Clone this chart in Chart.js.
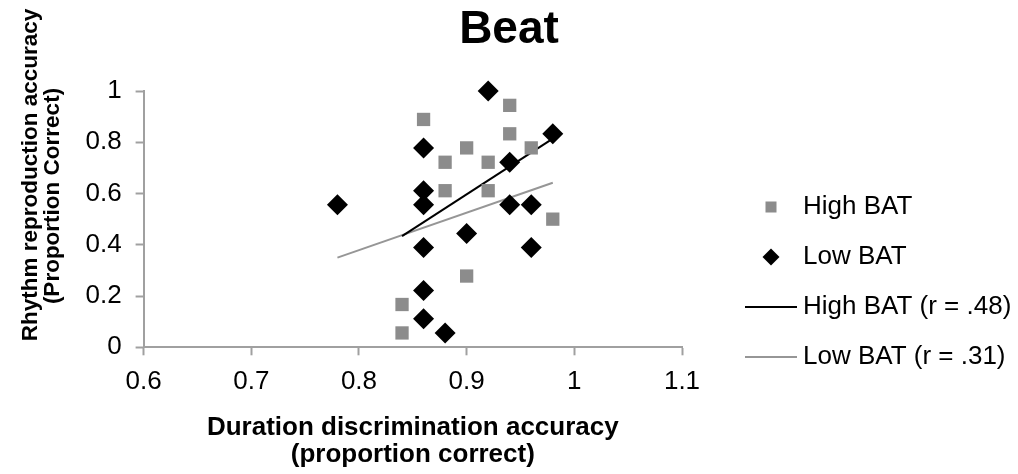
<!DOCTYPE html>
<html><head><meta charset="utf-8">
<script src="https://cdn.jsdelivr.net/npm/chart.js@4"></script>
<style>html,body{margin:0;padding:0;background:#fff;} canvas{display:block;}</style>
</head><body>
<canvas id="c" width="1018" height="474"></canvas>
<script>
// ---- data ----
const chartTitle = 'Beat';
const xTitle = ['Duration discrimination accuracy', '(proportion correct)'];
const yTitle = ['Rhythm reproduction accuracy', '(Proportion Correct)'];
const seriesNames = ['High BAT', 'Low BAT', 'High BAT (r = .48)', 'Low BAT (r = .31)'];

const highX = [0.84, 0.84, 0.86, 0.88, 0.88, 0.90, 0.90, 0.92, 0.92, 0.94, 0.94, 0.96, 0.98];
const highY = [0.056, 0.167, 0.889, 0.611, 0.722, 0.278, 0.778, 0.611, 0.722, 0.833, 0.944, 0.778, 0.500];

const lowX = [0.78, 0.86, 0.86, 0.86, 0.86, 0.86, 0.86, 0.88, 0.90, 0.92, 0.94, 0.94, 0.96, 0.96, 0.98];
const lowY = [0.556, 0.111, 0.222, 0.389, 0.556, 0.611, 0.778, 0.056, 0.444, 1.000, 0.556, 0.722, 0.389, 0.556, 0.833];

const highTrendX = [0.84, 0.98];
const highTrendY = [0.434, 0.814];
const lowTrendX = [0.78, 0.98];
const lowTrendY = [0.350, 0.642];

const xTickValues = [0.6, 0.7, 0.8, 0.9, 1.0, 1.1];
const xTickLabels = ['0.6', '0.7', '0.8', '0.9', '1', '1.1'];
const yTickValues = [0, 0.2, 0.4, 0.6, 0.8, 1.0];
const yTickLabels = ['0', '0.2', '0.4', '0.6', '0.8', '1'];

// ---- styling ----
const FONT = "'Liberation Sans', Arial, Helvetica, sans-serif";
const GRAY_SQ = '#8c8c8c';
const GRAY_LINE = '#969696';
const AXIS = '#a0a0a0';

const pts = (xs, ys) => xs.map((x, i) => ({x: x, y: ys[i]}));

function icon(kind, color) {
  const c = document.createElement('canvas');
  c.width = 120; c.height = 30;
  const g = c.getContext('2d');
  g.fillStyle = color; g.strokeStyle = color;
  const cx = 83, cy = 15;
  if (kind === 'square') {
    g.fillRect(cx - 5.5, cy - 5.5, 11, 11);
  } else if (kind === 'diamond') {
    g.beginPath(); g.moveTo(cx, cy - 8.5); g.lineTo(cx + 8.5, cy); g.lineTo(cx, cy + 8.5); g.lineTo(cx - 8.5, cy); g.closePath(); g.fill();
  } else {
    g.lineWidth = 2; g.beginPath(); g.moveTo(57, cy); g.lineTo(109, cy); g.stroke();
  }
  return c;
}
const legendIcons = [icon('square', GRAY_SQ), icon('diamond', '#000'), icon('line', '#000'), icon('line', GRAY_LINE)];

const yTitlePlugin = {
  id: 'yTitleText',
  afterDraw(chart) {
    const ctx = chart.ctx;
    const pos = [[31, 175], [52.5, 196]];
    ctx.save();
    ctx.font = 'bold 22.5px ' + FONT;
    ctx.fillStyle = '#000';
    ctx.textAlign = 'center';
    ctx.textBaseline = 'middle';
    yTitle.forEach((t, i) => {
      ctx.save();
      ctx.translate(pos[i][0], pos[i][1]);
      ctx.rotate(-Math.PI / 2);
      ctx.fillText(t, 0, 0);
      ctx.restore();
    });
    ctx.restore();
  }
};

const axisCommon = {
  grid: { display: true, drawOnChartArea: false, drawTicks: true, tickLength: 8, tickColor: AXIS, tickWidth: 2 },
  border: { display: true, color: AXIS, width: 2 },
};

new Chart(document.getElementById('c'), {
  type: 'scatter',
  data: {
    datasets: [
      { label: seriesNames[0], data: pts(highX, highY), pointStyle: 'rect', pointRadius: 9.4, backgroundColor: GRAY_SQ, borderWidth: 0, order: 1, clip: false },
      { label: seriesNames[1], data: pts(lowX, lowY), pointStyle: 'rectRot', pointRadius: 10.5, backgroundColor: '#000', borderWidth: 0, order: 0, clip: false },
      { label: seriesNames[2], data: pts(highTrendX, highTrendY), showLine: true, pointRadius: 0, borderColor: '#000', borderWidth: 2, fill: false, order: 2 },
      { label: seriesNames[3], data: pts(lowTrendX, lowTrendY), showLine: true, pointRadius: 0, borderColor: GRAY_LINE, borderWidth: 2, fill: false, order: 3 },
    ]
  },
  options: {
    responsive: false,
    animation: false,
    devicePixelRatio: 1,
    events: [],
    layout: { padding: 0 },
    plugins: {
      tooltip: { enabled: false },
      title: {
        display: true, text: chartTitle, color: '#000',
        font: { family: FONT, size: 46, weight: 'bold', lineHeight: 1.2 },
        padding: { top: 3, bottom: 32.8 }
      },
      legend: {
        display: true, position: 'right', align: 'start', maxWidth: 336,
        title: { display: true, text: ' ', font: { size: 10, lineHeight: 1.2 }, padding: { top: 0, bottom: 158 } },
        labels: {
          color: '#000', font: { family: FONT, size: 26 }, padding: 24,
          usePointStyle: true, pointStyleWidth: 84,
          generateLabels: () => seriesNames.map((n, i) => ({
            text: n, fillStyle: '#000', strokeStyle: '#000', lineWidth: 0,
            pointStyle: legendIcons[i], hidden: false, datasetIndex: i, fontColor: '#000'
          }))
        }
      }
    },
    scales: {
      x: Object.assign({}, axisCommon, {
        type: 'linear', position: 'bottom', min: 0.6, max: 1.1,
        afterBuildTicks: s => { s.ticks = xTickValues.map(v => ({value: v})); },
        afterFit: s => { s.height = 474 - 347.3; },
        ticks: { color: '#000', font: { family: FONT, size: 26 }, padding: 11,
          callback: (v, i) => xTickLabels[i] },
        title: { display: true, text: xTitle, color: '#000', font: { family: FONT, size: 26, weight: 'bold', lineHeight: 1.02 }, padding: { top: 0, bottom: 6 } }
      }),
      y: Object.assign({}, axisCommon, {
        type: 'linear', position: 'left', min: 0, max: 1,
        afterBuildTicks: s => { s.ticks = yTickValues.map(v => ({value: v})); },
        afterFit: s => { s.width = 143.6; },
        ticks: { color: '#000', font: { family: FONT, size: 26 }, padding: 14,
          callback: (v, i) => yTickLabels[i] }
      })
    }
  },
  plugins: [yTitlePlugin]
});
</script>
</body></html>
